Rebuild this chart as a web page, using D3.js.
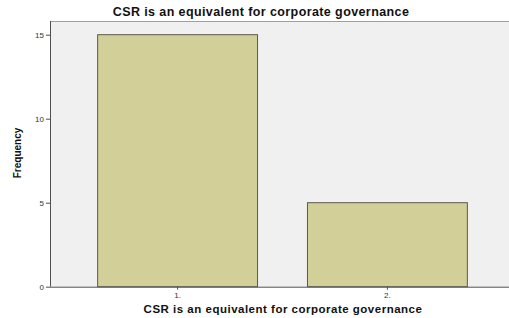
<!DOCTYPE html>
<html>
<head>
<meta charset="utf-8">
<script src="https://cdn.jsdelivr.net/npm/d3@7"></script>
<style>
  body { margin: 0; background: #fff; }
  text { font-family: "Liberation Sans", Arial, sans-serif; }
</style>
</head>
<body>
<script>
(function (d3) {
    'use strict';

    var categories = ["1.", "2."];
    var frequencies = [15, 5];
    var yTicks = [0, 5, 10, 15];

    var W = 509, H = 318;
    var left = 50, top = 21, bottom = 286.7, right = 515;

    var svg = d3.select("body").append("svg")
        .attr("width", W)
        .attr("height", H);

    var x = d3.scaleBand()
        .domain(categories)
        .range([left, right])
        .paddingInner(0.238)
        .paddingOuter(0.227);

    var y = d3.scaleLinear()
        .domain([0, 15])
        .range([bottom, 34.7]);

    // plot background
    svg.append("rect")
        .attr("x", left)
        .attr("y", top)
        .attr("width", W - left)
        .attr("height", bottom - top)
        .attr("fill", "#f0f0f0");

    svg.append("line")
        .attr("x1", left).attr("x2", W)
        .attr("y1", top + 0.5).attr("y2", top + 0.5)
        .attr("stroke", "#a0a0a0");

    svg.selectAll(".bar")
        .data(frequencies)
        .enter().append("rect")
        .attr("class", "bar")
        .attr("x", function (d, i) { return x(categories[i]); })
        .attr("y", function (d) { return y(d); })
        .attr("width", x.bandwidth())
        .attr("height", function (d) { return y(0) - y(d); })
        .attr("fill", "#d3cf98")
        .attr("stroke", "#5a5a50")
        .attr("stroke-width", 1);

    var yAxis = svg.append("g")
        .attr("transform", "translate(" + left + ",0)")
        .call(d3.axisLeft(y).tickValues(yTicks).tickSize(4).tickPadding(2));
    yAxis.select(".domain").attr("stroke", "#505050").attr("d", "M0.5," + top + "V" + bottom);
    yAxis.selectAll(".tick line").attr("stroke", "#505050");
    yAxis.selectAll("text").attr("font-size", 8).attr("fill", "#333");

    var xAxis = svg.append("g")
        .attr("transform", "translate(0," + bottom + ")")
        .call(d3.axisBottom(x).tickSize(3).tickPadding(3));
    xAxis.select(".domain").attr("stroke", "#505050").attr("d", "M" + left + ",0.5H" + W);
    xAxis.selectAll(".tick line").attr("stroke", "#505050");
    xAxis.selectAll("text").attr("font-size", 8).attr("fill", "#333");

    svg.append("text")
        .attr("x", 261)
        .attr("y", 16)
        .attr("text-anchor", "middle")
        .attr("font-size", 12.5)
        .attr("letter-spacing", 0.4)
        .attr("font-weight", "bold")
        .attr("fill", "#111")
        .text("CSR is an equivalent for corporate governance");

    svg.append("text")
        .attr("x", 283)
        .attr("y", 313)
        .attr("text-anchor", "middle")
        .attr("font-size", 11.5)
        .attr("letter-spacing", 0.5)
        .attr("font-weight", "bold")
        .attr("fill", "#111")
        .text("CSR is an equivalent for corporate governance");

    svg.append("text")
        .attr("transform", "translate(21,153) rotate(-90)")
        .attr("text-anchor", "middle")
        .attr("font-size", 10)
        .attr("font-weight", "bold")
        .attr("fill", "#111")
        .text("Frequency");

})(d3);
</script>
</body>
</html>
